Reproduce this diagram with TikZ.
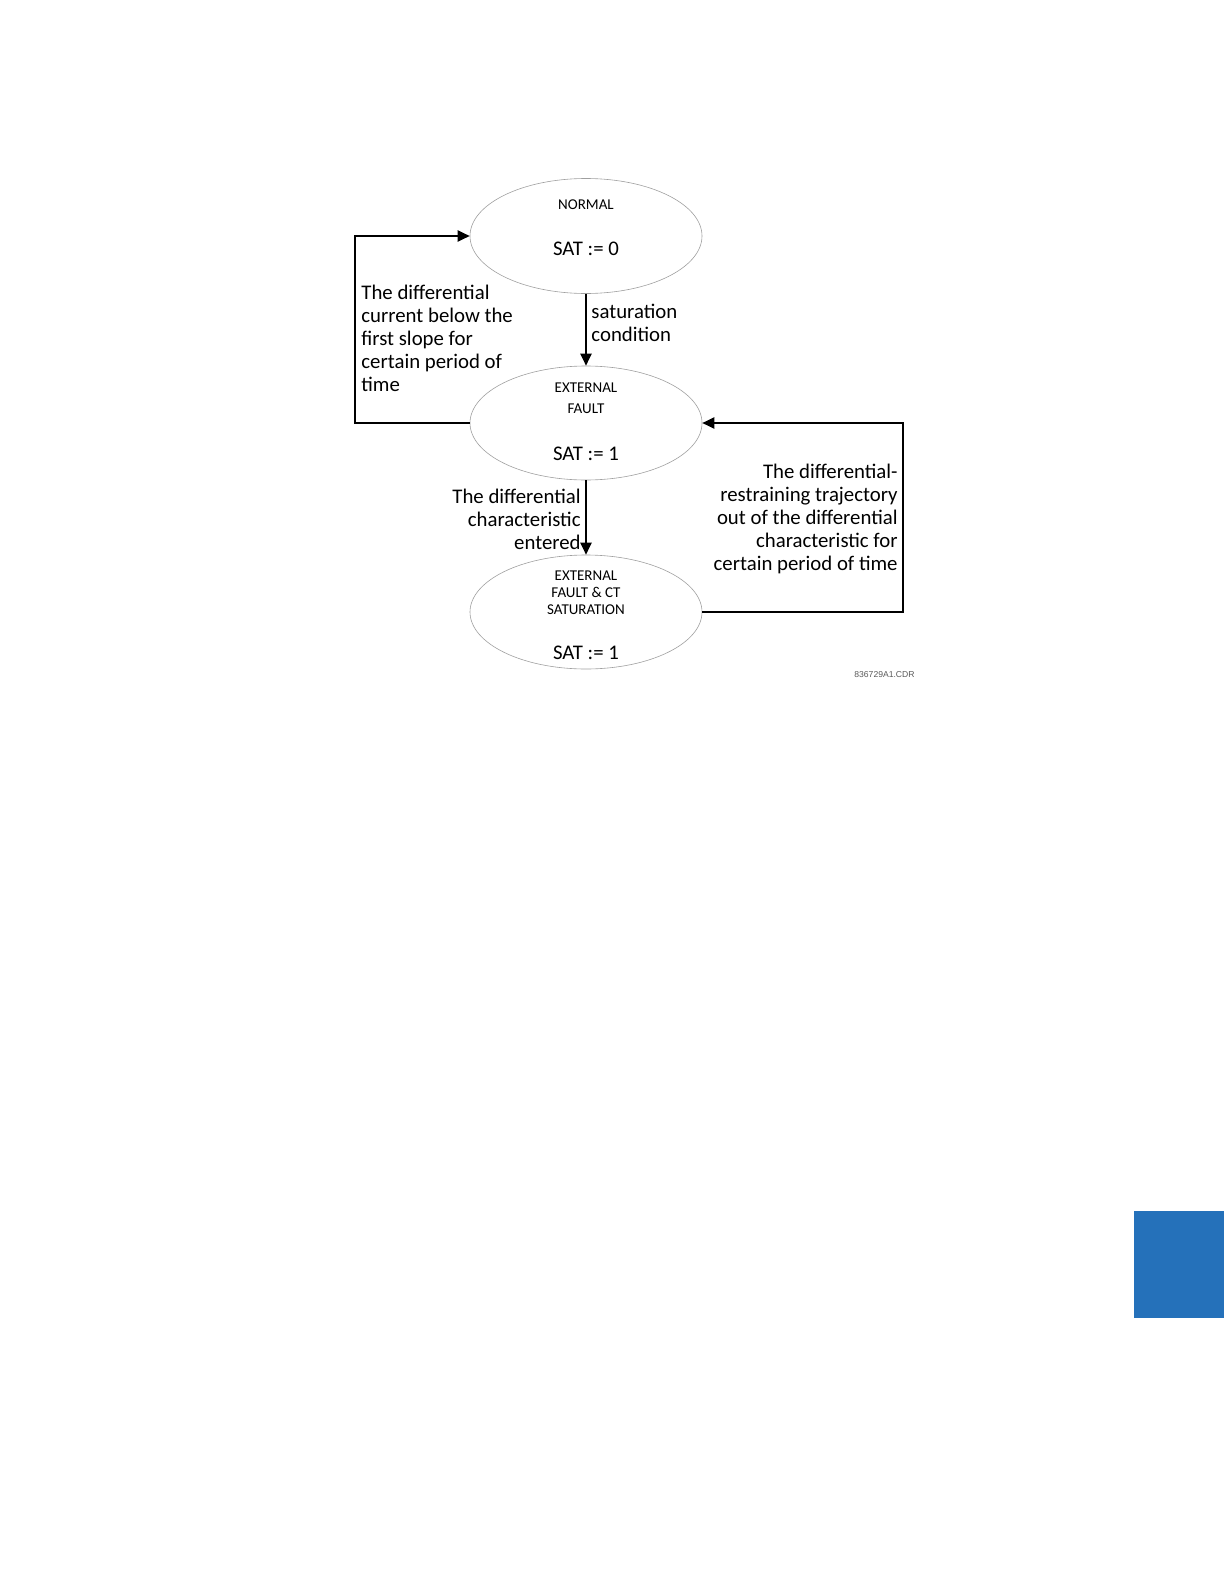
\documentclass[tikz,border=0pt]{standalone}
\usepackage{fontspec}
\setmainfont{Carlito}
\usepackage{tikz}
\usetikzlibrary{shapes.geometric, arrows.meta, calc, positioning}
\definecolor{tabblue}{RGB}{37,113,186}
\newcommand{\labelfont}{\fontsize{10.4}{11.5}\selectfont}
\newcommand{\titlefont}{\fontsize{7.5}{8.5}\selectfont}

\begin{document}
\begin{tikzpicture}[x=0.5pt, y=-0.5pt]
    \useasboundingbox (0,0) rectangle (1224,1584);
    % states
    \node[
        draw=gray!75, line width=0.3pt, ellipse,
        minimum width=116pt, minimum height=57.5pt, inner sep=0pt
    ] (normal) at (586,236) {};
    \node[
        draw=gray!75, line width=0.3pt, ellipse,
        minimum width=116pt, minimum height=57pt, inner sep=0pt
    ] (fault) at (586,423) {};
    \node[
        draw=gray!75, line width=0.3pt, ellipse,
        minimum width=116pt, minimum height=57pt, inner sep=0pt
    ] (ctsat) at (586,612) {};
    % state texts
    \node[inner sep=0pt, font=\titlefont] (normaltitle) at ($(normal)+(0,-31)$) {NORMAL};
    \node[inner sep=0pt, font=\labelfont] (normalsat) at ($(normal)+(0,13)$) {SAT := 0};
    \node[inner sep=0pt, font=\titlefont, align=center] (faulttitle) at ($(fault)+(0,-25)$)
        {EXTERNAL\\[2pt]FAULT};
    \node[inner sep=0pt, font=\labelfont] (faultsat) at ($(fault)+(0,31)$) {SAT := 1};
    \node[inner sep=0pt, font=\titlefont, align=center] (ctsattitle) at ($(ctsat)+(0,-19)$)
        {EXTERNAL\\FAULT \& CT\\SATURATION};
    \node[inner sep=0pt, font=\labelfont] (ctsatsat) at ($(ctsat)+(0,41)$) {SAT := 1};
    % turning points of the loops
    \coordinate (leftturn) at (355,423);
    \coordinate (rightturn) at (903,612);
    % transitions
    \draw[line width=1pt, -{Triangle[length=6pt, width=5.5pt]}]
        (normal.south) -- (fault.north);
    \draw[line width=1pt, -{Triangle[length=6pt, width=5.5pt]}]
        (fault.south) -- (ctsat.north);
    \draw[line width=1pt, -{Triangle[length=6pt, width=5.5pt]}]
        (fault.west) -- (leftturn) |- (normal.west);
    \draw[line width=1pt, -{Triangle[length=6pt, width=5.5pt]}]
        (ctsat.east) -- (rightturn) |- (fault.east);
    % transition labels
    \node[inner sep=0pt, font=\labelfont, anchor=west, align=left] (backlabel) at (361,338) {%
        The differential\\
        current below the\\
        first slope for\\
        certain period of\\
        time};
    \node[inner sep=0pt, font=\labelfont, anchor=west, align=left] (satlabel) at (591,323) {%
        saturation\\
        condition};
    \node[inner sep=0pt, font=\labelfont, anchor=east, align=right] (enterlabel) at (581,519) {%
        The differential\\
        characteristic\\
        entered};
    \node[inner sep=0pt, font=\labelfont, anchor=east, align=right] (outlabel) at (898,519) {%
        The differential-\\
        restraining trajectory\\
        out of the differential\\
        characteristic for\\
        certain period of time};
    \node[inner sep=0pt, anchor=east, text=gray!70!black] (drawingno) at (915,675)
        {\fontsize{4.3}{5}\selectfont\fontspec{Liberation Sans}836729A1.CDR};
    % page tab
    \fill[tabblue] (1134,1211) rectangle (1224,1318);
\end{tikzpicture}
\end{document}
